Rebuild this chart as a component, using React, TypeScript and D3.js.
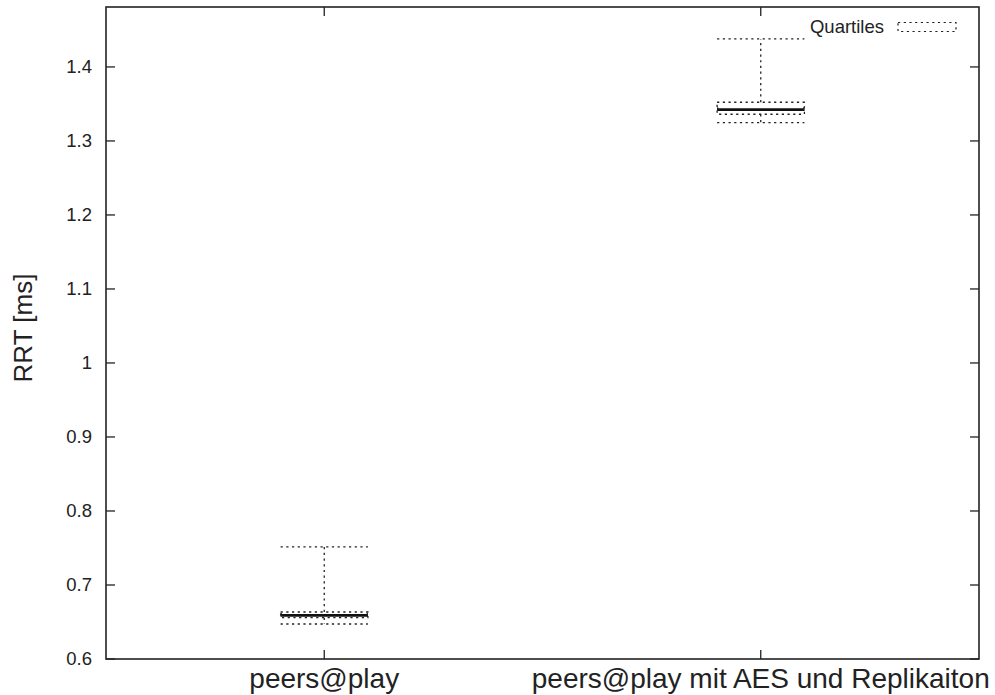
import React from "react";
import * as d3 from "d3";

const categories = ["peers@play", "peers@play mit AES und Replikaiton"];
const positions = [1, 2];
const mins = [0.6473, 1.3247];
const q1s = [0.6558, 1.3361];
const medians = [0.659, 1.3423];
const q3s = [0.6635, 1.3523];
const maxs = [0.7514, 1.4378];
const yTicks = [0.6, 0.7, 0.8, 0.9, 1.0, 1.1, 1.2, 1.3, 1.4];
const yLabel = "RRT [ms]";
const legendLabel = "Quartiles";

const W = 995;
const H = 695;
const L = 106, R = 979, T = 7, B = 659;
const Y_MIN = 0.6, Y_MAX = 1.481;
const X_MIN = 0.5, X_MAX = 2.5;
const HALF = 0.1;

const ink = "#222";
const dash = "2.2,3.5";
const font = "'Liberation Sans', Arial, Helvetica, sans-serif";

export default function App() {
  const x = d3.scaleLinear().domain([X_MIN, X_MAX]).range([L, R]);
  const y = d3.scaleLinear().domain([Y_MIN, Y_MAX]).range([B, T]);
  const fmt = (v: number) => d3.format("~g")(+v.toFixed(2));
  const tl = 9;

  return (
    <svg width={W} height={H} style={{ position: "absolute", left: 0, top: 0, background: "#fff" }} fontFamily={font}>
      {/* y ticks */}
      {yTicks.map((t) => (
        <g key={t}>
          <line x1={L} x2={L + tl} y1={y(t)} y2={y(t)} stroke={ink} strokeWidth={1.3} />
          <line x1={R - tl} x2={R} y1={y(t)} y2={y(t)} stroke={ink} strokeWidth={1.3} />
          <text x={92} y={y(t)} dy="0.35em" textAnchor="end" fontSize={18.5} fill={ink}>
            {fmt(t)}
          </text>
        </g>
      ))}
      {/* x ticks */}
      {positions.map((p, i) => (
        <g key={p}>
          <line x1={x(p)} x2={x(p)} y1={B} y2={B - tl} stroke={ink} strokeWidth={1.3} />
          <line x1={x(p)} x2={x(p)} y1={T} y2={T + tl} stroke={ink} strokeWidth={1.3} />
          <text x={x(p)} y={688} textAnchor="middle" fontSize={28} fill={ink}>
            {categories[i]}
          </text>
        </g>
      ))}
      {/* boxes */}
      {positions.map((p, i) => {
        const x0 = x(p - HALF), x1 = x(p + HALF), xc = x(p);
        const ym = y(medians[i]);
        return (
          <g key={"b" + p} stroke={ink} fill="none" strokeWidth={1.3}>
            <rect x={x0} y={y(q3s[i])} width={x1 - x0} height={y(q1s[i]) - y(q3s[i])} strokeDasharray={dash} />
            <line x1={xc} x2={xc} y1={y(q3s[i])} y2={y(maxs[i])} strokeDasharray={dash} />
            <line x1={xc} x2={xc} y1={y(q1s[i])} y2={y(mins[i])} strokeDasharray={dash} />
            <line x1={x0} x2={x1} y1={y(maxs[i])} y2={y(maxs[i])} strokeDasharray={dash} />
            <line x1={x0} x2={x1} y1={y(mins[i])} y2={y(mins[i])} strokeDasharray={dash} />
            <line x1={x0} x2={x1} y1={ym} y2={ym} strokeWidth={2.8} stroke="#111" />
            <line x1={x0 + 0.6} x2={x0 + 0.6} y1={ym - 2.5} y2={ym + 1} strokeWidth={1.2} />
            <line x1={x1 - 0.6} x2={x1 - 0.6} y1={ym - 2.5} y2={ym + 1} strokeWidth={1.2} />
          </g>
        );
      })}
      {/* legend */}
      <text x={884} y={33} textAnchor="end" fontSize={18.5} fill={ink}>
        {legendLabel}
      </text>
      <rect x={898} y={22.5} width={58} height={9} fill="none" stroke={ink} strokeWidth={1.2} strokeDasharray={dash} />
      {/* frame */}
      <rect x={L} y={T} width={R - L} height={B - T} fill="none" stroke={ink} strokeWidth={1.6} />
      {/* y label */}
      <text transform={`translate(32,328) rotate(-90)`} textAnchor="middle" fontSize={26} fill={ink}>
        {yLabel}
      </text>
    </svg>
  );
}
